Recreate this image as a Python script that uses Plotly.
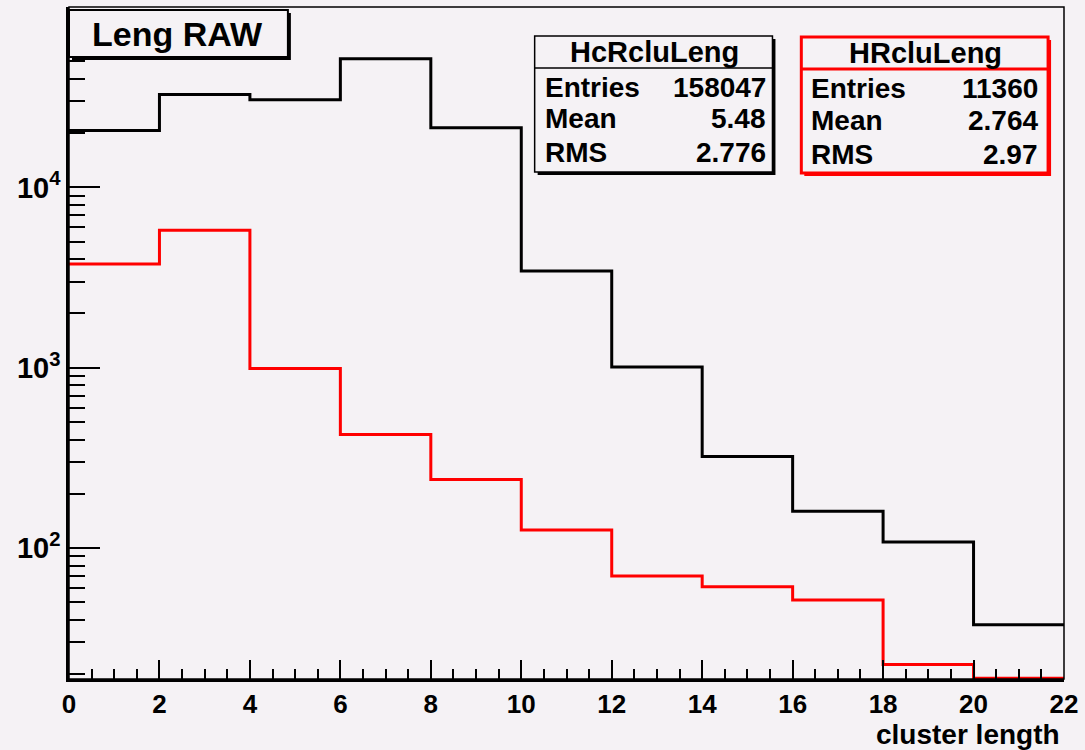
import numpy as np
import plotly.graph_objects as go

# ---- data ----
bin_edges = [0, 2, 4, 6, 8, 10, 12, 14, 16, 18, 20, 22]
hc_counts = [20650, 32700, 30600, 51600, 21400, 3435, 1010, 322, 160, 108, 37.6]
hr_counts = [3760, 5780, 990, 427, 240, 126, 70, 61, 51.6, 22.6, 19.0]
x_tick_vals = [0, 2, 4, 6, 8, 10, 12, 14, 16, 18, 20, 22]
y_tick_vals = [100, 1000, 10000]
y_tick_text = ["10<sup>2</sup>", "10<sup>3</sup>", "10<sup>4</sup>"]
y_minor_vals = [20, 30, 40, 50, 60, 70, 80, 90,
                200, 300, 400, 500, 600, 700, 800, 900,
                2000, 3000, 4000, 5000, 6000, 7000, 8000, 9000,
                20000, 30000, 40000, 50000, 60000, 70000, 80000, 90000]
stats_black = [("Entries", "158047"), ("Mean", "5.48"), ("RMS", "2.776")]
stats_red = [("Entries", "11360"), ("Mean", "2.764"), ("RMS", "2.97")]

BG = "#f5f2f5"
FONT = "Liberation Sans, Arial, sans-serif"

W, H = 1085, 750
L, R, T, B = 69, 16, 7, 71
PW, PH = W - L - R, H - T - B


def px(x):
    return (x - L) / PW


def py(y):
    return (H - B - y) / PH


fig = go.Figure()
fig.add_trace(go.Scatter(x=bin_edges, y=hc_counts + [hc_counts[-1]], mode="lines",
                         line=dict(color="black", width=3, shape="hv"), showlegend=False))
fig.add_trace(go.Scatter(x=bin_edges, y=hr_counts + [hr_counts[-1]], mode="lines",
                         line=dict(color="#ff0000", width=3, shape="hv"), showlegend=False))

shapes = []
annotations = []


def box(x0, y0, x1, y1, color, lw, divider_y, shadow=3):
    shapes.append(dict(type="rect", xref="paper", yref="paper",
                       x0=px(x0 + shadow), x1=px(x1 + shadow), y0=py(y1 + shadow), y1=py(y0 + shadow),
                       fillcolor=color, line=dict(width=0), layer="above"))
    shapes.append(dict(type="rect", xref="paper", yref="paper",
                       x0=px(x0), x1=px(x1), y0=py(y1), y1=py(y0),
                       fillcolor=BG, line=dict(color=color, width=lw), layer="above"))
    if divider_y is not None:
        shapes.append(dict(type="line", xref="paper", yref="paper",
                           x0=px(x0), x1=px(x1), y0=py(divider_y), y1=py(divider_y),
                           line=dict(color=color, width=lw), layer="above"))


def text(x, y, s, anchor="center", size=28):
    annotations.append(dict(xref="paper", yref="paper", x=px(x), y=py(y), text="<b>%s</b>" % s,
                            showarrow=False, xanchor=anchor, yanchor="middle",
                            font=dict(family=FONT, size=size, color="black")))


# title box
box(69, 10, 289, 57, "black", 2, None, shadow=3)
text(178, 34, "Leng RAW", size=34)

# black stats box
box(537, 36, 776, 172, "black", 1.5, 68, shadow=3)
text(657, 52, "HcRcluLeng", size=29)
for i, (k, v) in enumerate(stats_black):
    yy = [87, 119, 152][i]
    text(545, yy, k, "left", 28)
    text(772, yy, v, "right", 28)

# red stats box
box(805, 37, 1053, 173, "#ff0000", 3, 69, shadow=3)
text(930, 53, "HRcluLeng", size=29)
for i, (k, v) in enumerate(stats_red):
    yy = [88, 121, 154][i]
    text(813, yy, k, "left", 28)
    text(1045, yy, v, "right", 28)

# axis title
text(1067, 734, "cluster length", "right", 28)

# frame
shapes.append(dict(type="rect", xref="paper", yref="paper", x0=0, x1=1, y0=0, y1=1,
                   line=dict(color="black", width=1.5), layer="above"))

fig.update_layout(
    width=W, height=H,
    margin=dict(l=L, r=R, t=T, b=B),
    paper_bgcolor=BG, plot_bgcolor=BG,
    shapes=shapes, annotations=annotations,
    font=dict(family=FONT, size=28, color="black", weight="bold"),
    xaxis=dict(range=[0, 22], tickvals=x_tick_vals, ticks="inside", ticklen=19, tickwidth=1.5,
               tickcolor="black", showline=True, linewidth=2.5, linecolor="black",
               showgrid=False, zeroline=False,
               minor=dict(dtick=0.5, ticks="inside", ticklen=10, tickwidth=1.5, tickcolor="black"),
               tickfont=dict(family=FONT, size=26, weight="bold")),
    yaxis=dict(type="log", range=[np.log10(18.8), 5.0], tickvals=y_tick_vals, ticktext=y_tick_text,
               ticks="inside", ticklen=31, tickwidth=1.5, tickcolor="black",
               showline=True, linewidth=2.5, linecolor="black", showgrid=False, zeroline=False,
               minor=dict(tickvals=y_minor_vals, ticks="inside", ticklen=16, tickwidth=1.5,
                          tickcolor="black"),
               tickfont=dict(family=FONT, size=29, weight="bold")),
)

fig.write_html("out.html")
